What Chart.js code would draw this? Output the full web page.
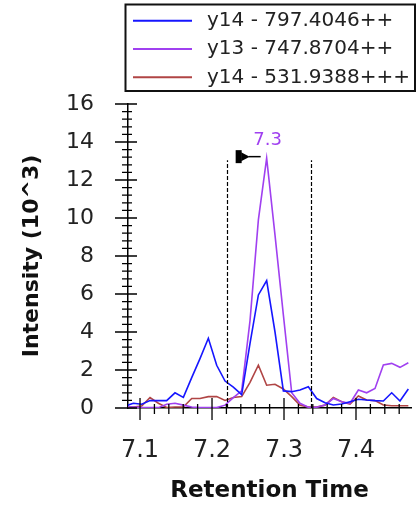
<!DOCTYPE html>
<html>
<head>
<meta charset="utf-8">
<script src="https://cdn.jsdelivr.net/npm/chart.js@4.4.1/dist/chart.umd.min.js"></script>
<style>
  html, body { margin: 0; padding: 0; background: #fff; }
  #wrap { width: 419px; height: 507px; }
</style>
</head>
<body>
<div id="wrap"><canvas id="chart" width="419" height="507"></canvas></div>
<script>
// retention time (min) of each scan
const times = [7.0792, 7.0907, 7.1023, 7.1139, 7.1255, 7.1370, 7.1486, 7.1602, 7.1718, 7.1833,
               7.1949, 7.2065, 7.2181, 7.2296, 7.2412, 7.2528, 7.2644, 7.2759, 7.2875, 7.2991,
               7.3107, 7.3222, 7.3338, 7.3454, 7.3570, 7.3685, 7.3801, 7.3917, 7.4033, 7.4148,
               7.4264, 7.4380, 7.4496, 7.4611, 7.4727];

// fragment intensities (10^3)
const y14_797 = [0.10, 0.25, 0.20, 0.39, 0.39, 0.39, 0.80, 0.56, 1.60, 2.60,
                 3.67, 2.25, 1.42, 1.10, 0.70, 3.40, 5.95, 6.70, 4.00, 0.90,
                 0.86, 0.95, 1.12, 0.50, 0.28, 0.16, 0.21, 0.33, 0.46, 0.42,
                 0.39, 0.37, 0.80, 0.37, 1.00];
const y13_747 = [0.05, 0.05, 0.02, 0.02, 0.02, 0.20, 0.25, 0.15, 0.05, 0.02,
                 0.02, 0.02, 0.15, 0.55, 0.90, 4.60, 9.90, 13.15, 9.10, 4.90,
                 0.80, 0.25, 0.04, 0.04, 0.16, 0.50, 0.33, 0.25, 0.95, 0.80,
                 1.03, 2.26, 2.35, 2.14, 2.38];
const y14_531 = [0.05, 0.05, 0.10, 0.55, 0.25, 0.03, 0.05, 0.05, 0.50, 0.50,
                 0.60, 0.60, 0.40, 0.55, 0.60, 1.35, 2.25, 1.20, 1.25, 1.00,
                 0.60, 0.15, 0.05, 0.05, 0.15, 0.55, 0.33, 0.20, 0.63, 0.42,
                 0.39, 0.16, 0.12, 0.12, 0.12];

const seriesLabels = ['y14 - 797.4046++', 'y13 - 747.8704++', 'y14 - 531.9388+++'];
const seriesColors = ['#1616ff', '#a040f0', '#b04545'];

const xTicks = [7.1, 7.2, 7.3, 7.4];
const yTicks = [0, 2, 4, 6, 8, 10, 12, 14, 16];

// integration window of the picked peak
const peakBounds = [7.2204, 7.3370];

const FONT = 'DejaVu Sans';

function points(vals) {
  return vals.map((v, i) => ({ x: times[i], y: v }));
}

// legend drawn in a framed box above the plot
const boxLegend = {
  id: 'boxLegend',
  afterDraw(chart) {
    const ctx = chart.ctx;
    ctx.save();
    ctx.lineWidth = 2;
    ctx.strokeStyle = '#111';
    ctx.strokeRect(125.5, 4.5, 289.5, 86.5);
    ctx.font = '20px "' + FONT + '"';
    ctx.textBaseline = 'middle';
    chart.data.datasets.forEach((ds, i) => {
      const yy = 20.7 + i * 28.3;
      ctx.strokeStyle = ds.borderColor;
      ctx.lineWidth = 2;
      ctx.beginPath();
      ctx.moveTo(133, yy);
      ctx.lineTo(192, yy);
      ctx.stroke();
      ctx.fillStyle = '#222';
      ctx.fillText(ds.label, 207, yy);
    });
    ctx.restore();
  }
};

// major and minor tick marks crossing both axes
const tickMarks = {
  id: 'tickMarks',
  afterDraw(chart) {
    const { ctx, scales: { x, y } } = chart;
    const ax = x.left, ay = y.bottom;
    ctx.save();
    ctx.strokeStyle = '#000';
    ctx.lineWidth = 1.3;
    ctx.beginPath();
    for (let k = 0; k <= 40; k++) {
      const v = k * 0.4;
      const py = y.getPixelForValue(v);
      const major = k % 5 === 0;
      ctx.moveTo(ax - (major ? 13 : 6), py);
      ctx.lineTo(ax + (major ? 9 : 4), py);
    }
    for (let k = 354; k <= 374; k++) {
      const v = k * 0.02;
      if (v < x.min || v > x.max) continue;
      const px = x.getPixelForValue(v);
      const major = k % 5 === 0;
      ctx.moveTo(px, ay - (major ? 10 : 4));
      ctx.lineTo(px, ay + (major ? 12 : 6));
    }
    ctx.stroke();
    ctx.restore();
  }
};

// peak window lines, apex flag and apex time label
const peakMarks = {
  id: 'peakMarks',
  afterDatasetsDraw(chart) {
    const { ctx, scales: { x, y } } = chart;
    let top = 0;
    y13_747.forEach((v, i) => { if (v > y13_747[top]) top = i; });
    const px = x.getPixelForValue(times[top]);
    const py = y.getPixelForValue(y13_747[top]);
    ctx.save();
    ctx.strokeStyle = '#000';
    ctx.lineWidth = 1.2;
    ctx.setLineDash([4, 2]);
    peakBounds.forEach(t => {
      const bx = Math.round(x.getPixelForValue(t)) + 0.5;
      ctx.beginPath();
      ctx.moveTo(bx, y.getPixelForValue(0));
      ctx.lineTo(bx, py + 2);
      ctx.stroke();
    });
    ctx.setLineDash([]);
    // flag
    ctx.fillStyle = '#000';
    ctx.fillRect(px - 31, py - 8, 6, 13);
    ctx.beginPath();
    ctx.moveTo(px - 25.5, py - 6);
    ctx.lineTo(px - 17, py - 1.5);
    ctx.lineTo(px - 25.5, py + 3);
    ctx.closePath();
    ctx.fill();
    ctx.lineWidth = 1.5;
    ctx.beginPath();
    ctx.moveTo(px - 18, py - 1.5);
    ctx.lineTo(px - 6, py - 1.5);
    ctx.stroke();
    // label
    ctx.fillStyle = seriesColors[1];
    ctx.font = '18px "' + FONT + '"';
    ctx.textAlign = 'center';
    ctx.textBaseline = 'middle';
    ctx.fillText(times[top].toFixed(1), px + 1, py - 18);
    ctx.restore();
  }
};

new Chart(document.getElementById('chart'), {
  type: 'line',
  data: {
    datasets: [y14_797, y13_747, y14_531].map((vals, i) => ({
      label: seriesLabels[i],
      data: points(vals),
      borderColor: seriesColors[i],
      backgroundColor: seriesColors[i],
      borderWidth: 1.6,
      pointRadius: 0,
      tension: 0,
      fill: false
    }))
  },
  options: {
    responsive: false,
    animation: false,
    events: [],
    layout: { padding: { top: 104, right: 8, left: 0, bottom: 0 } },
    plugins: {
      legend: { display: false },
      tooltip: { enabled: false }
    },
    scales: {
      x: {
        type: 'linear',
        min: 7.0833,
        max: 7.4764,
        afterBuildTicks: s => { s.ticks = xTicks.map(v => ({ value: v })); },
        afterFit: s => { s.height = 99; },
        grid: { display: false },
        border: { display: true, color: '#000', width: 1.5 },
        ticks: {
          autoSkip: false,
          maxRotation: 0,
          padding: 20,
          color: '#222',
          font: { family: FONT, size: 24 },
          callback: v => v.toFixed(1)
        },
        title: {
          display: true,
          text: 'Retention Time',
          color: '#111',
          font: { family: FONT, size: 23, weight: 'bold' },
          padding: { top: 0, bottom: 2 }
        }
      },
      y: {
        type: 'linear',
        min: 0,
        max: 16,
        afterBuildTicks: s => { s.ticks = yTicks.map(v => ({ value: v })); },
        afterFit: s => { s.width = 128; },
        grid: { display: false },
        border: { display: true, color: '#000', width: 1.5 },
        ticks: {
          padding: 26,
          color: '#222',
          font: { family: FONT, size: 22 }
        },
        title: {
          display: true,
          text: 'Intensity (10^3)',
          color: '#111',
          font: { family: FONT, size: 22, weight: 'bold' },
          padding: { top: 19, bottom: 2 }
        }
      }
    }
  },
  plugins: [boxLegend, tickMarks, peakMarks]
});
</script>
</body>
</html>
